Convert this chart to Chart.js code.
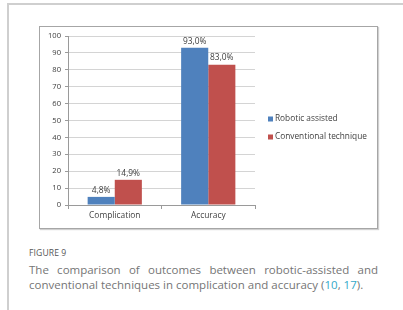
<!DOCTYPE html>
<html><head><meta charset="utf-8">
<script src="https://cdn.jsdelivr.net/npm/chart.js@4.4.1/dist/chart.umd.min.js"></script>
<style>
html,body{margin:0;padding:0;background:#fff;width:403px;height:310px;overflow:hidden;}
#frameTop{position:absolute;left:7px;top:3px;width:396px;height:2px;background:#cfcfcf;}
#frameLeft{position:absolute;left:7px;top:3px;width:2px;height:307px;background:#cfcfcf;}
#box{position:absolute;left:39px;top:26px;width:337px;height:201px;border:1px solid #a6a6a6;box-shadow:1px 1px 1px #d0d0d0;background:#fff;}
#box canvas{position:absolute;left:0;top:0;}
#figlabel{position:absolute;left:29px;top:247px;font-family:"Open Sans";font-size:8.6px;color:#555;letter-spacing:0.1px;}
#cap1{position:absolute;left:29px;top:262px;width:349px;font-family:"Open Sans";font-size:11.5px;color:#757575;text-align:justify;text-align-last:justify;white-space:nowrap;}
#cap2{position:absolute;left:29px;top:277px;width:349px;font-family:"Open Sans";font-size:11.5px;color:#757575;white-space:nowrap;}
.ref{color:#33a9c9;}
</style></head>
<body>
<div id="frameTop"></div><div id="frameLeft"></div>
<div id="box"><canvas id="c" width="337" height="201"></canvas></div>
<div id="figlabel">FIGURE 9</div>
<div id="cap1">The comparison of outcomes between robotic-assisted and</div>
<div id="cap2">conventional techniques in complication and accuracy (<span class="ref">10</span>, <span class="ref">17</span>).</div>
<script>
const categories = ["Complication", "Accuracy"];
const seriesNames = ["Robotic assisted", "Conventional technique"];
const robotic = [4.8, 93.0];
const conventional = [14.9, 83.0];
const yTicks = [0,10,20,30,40,50,60,70,80,90,100];

const FONT = "'Open Sans', 'Liberation Sans', sans-serif";
const TXT = '#404040';

const labelPlugin = {
  id: 'valueLabels',
  afterDatasetsDraw(chart) {
    const ctx = chart.ctx;
    ctx.save();
    ctx.font = "8.4px " + FONT;
    ctx.fillStyle = TXT;
    ctx.textAlign = 'center';
    ctx.textBaseline = 'bottom';
    chart.data.datasets.forEach((ds, i) => {
      chart.getDatasetMeta(i).data.forEach((bar, j) => {
        const t = ds.data[j].toFixed(1).replace('.', ',') + '%';
        ctx.fillText(t, bar.x, bar.y - 2.5);
      });
    });
    ctx.restore();
  }
};

const legendPlugin = {
  id: 'sideLegend',
  afterDraw(chart) {
    const ctx = chart.ctx;
    ctx.save();
    ctx.font = "8.3px " + FONT;
    ctx.textBaseline = 'middle';
    ctx.textAlign = 'left';
    const x0 = chart.chartArea.right + 13;
    const y0 = 92;
    chart.data.datasets.forEach((ds, i) => {
      const y = y0 + i * 18;
      ctx.fillStyle = ds.backgroundColor;
      ctx.fillRect(x0, y - 2.5, 5, 5);
      ctx.fillStyle = TXT;
      ctx.fillText(ds.label, x0 + 7, y);
    });
    ctx.restore();
  }
};

new Chart(document.getElementById('c'), {
  type: 'bar',
  data: {
    labels: categories,
    datasets: [
      { label: seriesNames[0], data: robotic, backgroundColor: '#4f81bd' },
      { label: seriesNames[1], data: conventional, backgroundColor: '#c0504d' }
    ]
  },
  options: {
    responsive: false,
    animation: false,
    devicePixelRatio: 1,
    layout: { padding: { top: 9, right: 122, left: 0, bottom: 0 } },
    datasets: { bar: { categoryPercentage: 0.58, barPercentage: 1.0 } },
    plugins: { legend: { display: false }, tooltip: { enabled: false } },
    scales: {
      x: {
        grid: { display: true, drawOnChartArea: false, offset: true, tickLength: 4, color: '#9a9a9a' },
        border: { color: '#9a9a9a' },
        ticks: { color: TXT, font: { family: FONT, size: 8.4 }, padding: 2 },
        afterFit(s) { s.height = 23; }
      },
      y: {
        min: 0, max: 100,
        afterBuildTicks(s) { s.ticks = yTicks.map(v => ({ value: v })); },
        grid: { color: '#d4d4d4', tickLength: 3, tickColor: '#9a9a9a' },
        border: { color: '#9a9a9a' },
        ticks: { color: TXT, font: { family: FONT, size: 7.6 }, padding: 4 },
        afterFit(s) { s.width = 28; }
      }
    }
  },
  plugins: [labelPlugin, legendPlugin]
});
</script>
</body></html>
